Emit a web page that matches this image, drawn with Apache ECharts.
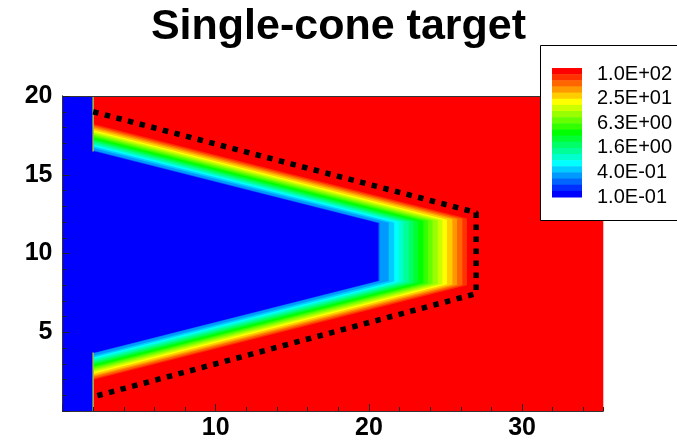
<!DOCTYPE html>
<html>
<head>
<meta charset="utf-8">
<title>Single-cone target</title>
<script src="https://cdn.jsdelivr.net/npm/echarts@6/dist/echarts.min.js"></script>
<style>
  html, body { margin: 0; padding: 0; background: #fff; }
  #chart { width: 677px; height: 441px; }
</style>
</head>
<body>
<div id="chart"></div>
<script>
// contour levels, log spaced from 1.0E-01 to 1.0E+02
var contourLevels = [0.1, 0.14, 0.2, 0.28, 0.4, 0.56, 0.79, 1.1, 1.6, 2.2, 3.2, 4.5, 6.3, 8.9, 12.6, 17.8, 25, 35, 50, 71, 100]
// where each contour crosses the cone axis (flat tip), x units
var contourTipX = [20.55, 20.6, 20.65, 20.7, 21.3, 21.65, 21.95, 22.25, 22.6, 22.9, 23.2, 23.55, 23.85, 24.15, 24.5, 24.8, 25.1, 25.45, 25.75, 26.1, 26.4]
// half width of each contour at the cone base (x = 2)
var contourBaseHalfWidth = [6.38, 6.4, 6.42, 6.45, 6.6, 6.71, 6.8, 6.89, 6.99, 7.08, 7.17, 7.27, 7.36, 7.45, 7.55, 7.64, 7.73, 7.84, 7.93, 8.03, 8.12]
var coneBaseX = 2
var coneAxisY = 10.1
var coneSideSlope = -0.246
// blue wall left of the cone base: [x0, x1, y0, y1]
var wallData = [[0, 2, 0, 20]]
// dotted target outline
var targetOutline = [[2, 19.0], [27, 12.6], [27, 7.45], [2, 0.9]]
var xMax = 35.3
var yMax = 20
var legendLabels = ['1.0E+02', '2.5E+01', '6.3E+00', '1.6E+00', '4.0E-01', '1.0E-01']

// band k lies between contourLevels[k] and contourLevels[k+1]; last one is > 1.0E+02
var bandColors = ['#0000ff', '#0030ff', '#0066ff', '#0099ff', '#00ccff', '#00ffff', '#00ffcc',
  '#00ff99', '#00ff66', '#00ff33', '#00ff00', '#33ff00', '#66ff00', '#99ff00', '#ccff00',
  '#ffff00', '#ffcc00', '#ff9900', '#ff6600', '#ff3300', '#ff0000']

var font = 'Arial, "Liberation Sans", Helvetica, sans-serif'

var contourData = []
for (var k = contourLevels.length - 1; k >= 0; k--) {
  contourData.push([contourTipX[k], contourBaseHalfWidth[k], k])
}

function renderContour(params, api) {
  var tipX = api.value(0)
  var hw = api.value(1)
  var k = api.value(2)
  var drop = coneSideSlope * (tipX - coneBaseX)
  var pts = [
    [coneBaseX, coneAxisY + hw],
    [tipX, coneAxisY + hw + drop],
    [tipX, coneAxisY - hw - drop],
    [coneBaseX, coneAxisY - hw]
  ].map(function(p) { return api.coord(p) })
  return {
    type: 'polygon',
    shape: { points: pts },
    style: { fill: bandColors[Math.max(k - 1, 0)] }
  }
}

function renderWall(params, api) {
  var tl = api.coord([api.value(0), api.value(3)])
  var br = api.coord([api.value(1), api.value(2)])
  var hw = contourBaseHalfWidth[0]
  var a = api.coord([api.value(1), coneAxisY + hw])
  var b = api.coord([api.value(1), coneAxisY - hw])
  var edge = { stroke: '#9fc33a', lineWidth: 1.5 }
  return {
    type: 'group',
    children: [
      { type: 'rect', shape: { x: tl[0], y: tl[1], width: br[0] - tl[0], height: br[1] - tl[1] }, style: { fill: '#0000ff' } },
      { type: 'line', shape: { x1: br[0], y1: tl[1], x2: br[0], y2: a[1] }, style: edge },
      { type: 'line', shape: { x1: br[0], y1: b[1], x2: br[0], y2: br[1] }, style: edge }
    ]
  }
}

// colour bar legend, drawn over the plot corner
var barTop = 68
var barH = 129 / bandColors.length
var legendItems = [
  { type: 'rect', z: 100, shape: { x: 540.5, y: 45.5, width: 150, height: 175 }, style: { fill: '#fff', stroke: '#000', lineWidth: 1 } }
]
bandColors.slice().reverse().forEach(function(c, i) {
  legendItems.push({ type: 'rect', z: 101, shape: { x: 552, y: barTop + i * barH, width: 30, height: barH + 0.5 }, style: { fill: c } })
})
legendLabels.forEach(function(t, j) {
  legendItems.push({
    type: 'text',
    z: 101,
    x: 597,
    y: barTop + barH + j * 4 * barH,
    style: { text: t, font: '20px ' + font, fill: '#000', verticalAlign: 'middle', align: 'left' }
  })
})

var tickStyle = { color: '#222', width: 1 }

var chart = echarts.init(document.getElementById('chart'))

var option = {
  animation: false,
  title: {
    text: 'Single-cone target',
    left: 'center',
    top: 1,
    textStyle: { fontFamily: font, fontSize: 43, fontWeight: 'bold', color: '#000' }
  },
  grid: { left: 62.5, right: 73.7, top: 96, bottom: 28.5, show: true, backgroundColor: '#ff0000', borderWidth: 0 },
  xAxis: [{
    type: 'value', min: 0, max: xMax, interval: 10, position: 'bottom', z: 10,
    axisLine: { show: true, lineStyle: { color: '#333', width: 1 } },
    axisTick: { show: true, inside: true, length: 7, lineStyle: tickStyle },
    axisLabel: {
      margin: 5, fontFamily: font, fontSize: 25, fontWeight: 'bold', color: '#000',
      showMaxLabel: false,
      formatter: function(v) { return v === 0 || v > 30 ? '' : v }
    },
    splitLine: { show: false }
  }, {
    type: 'value', min: 0, max: xMax, interval: 2, position: 'bottom', z: 10,
    axisLine: { show: false },
    axisTick: { show: true, inside: true, length: 4, lineStyle: tickStyle },
    axisLabel: { show: false },
    splitLine: { show: false }
  }, {
    type: 'value', min: 0, max: xMax, position: 'top', z: 10,
    axisLine: { show: true, lineStyle: { color: '#333', width: 1 } },
    axisTick: { show: false }, axisLabel: { show: false }, splitLine: { show: false }
  }],
  yAxis: [{
    type: 'value', min: 0, max: yMax, interval: 5, position: 'left', z: 10,
    axisLine: { show: true, lineStyle: { color: '#333', width: 1 } },
    axisTick: { show: true, inside: true, length: 7, lineStyle: tickStyle },
    minorTick: { show: true, splitNumber: 5, length: 4, lineStyle: tickStyle },
    axisLabel: {
      margin: 10, fontFamily: font, fontSize: 25, fontWeight: 'bold', color: '#000',
      formatter: function(v) { return v === 0 ? '' : v }
    },
    splitLine: { show: false }, minorSplitLine: { show: false }
  }, {
    type: 'value', min: 0, max: yMax, position: 'right', z: 10,
    axisLine: { show: true, lineStyle: { color: '#333', width: 1 } },
    axisTick: { show: false }, axisLabel: { show: false }, splitLine: { show: false }
  }],
  graphic: { elements: legendItems },
  series: [{
    type: 'custom',
    renderItem: renderContour,
    data: contourData,
    encode: { x: 0, y: 1 },
    silent: true,
    z: 2
  }, {
    type: 'custom',
    renderItem: renderWall,
    data: wallData,
    encode: { x: [0, 1], y: [2, 3] },
    silent: true,
    z: 3
  }, {
    type: 'line',
    data: targetOutline,
    symbol: 'none',
    silent: true,
    z: 5,
    lineStyle: { color: '#000', width: 5.5, type: [5.5, 6.5] }
  }]
}

chart.setOption(option)
</script>
</body>
</html>
